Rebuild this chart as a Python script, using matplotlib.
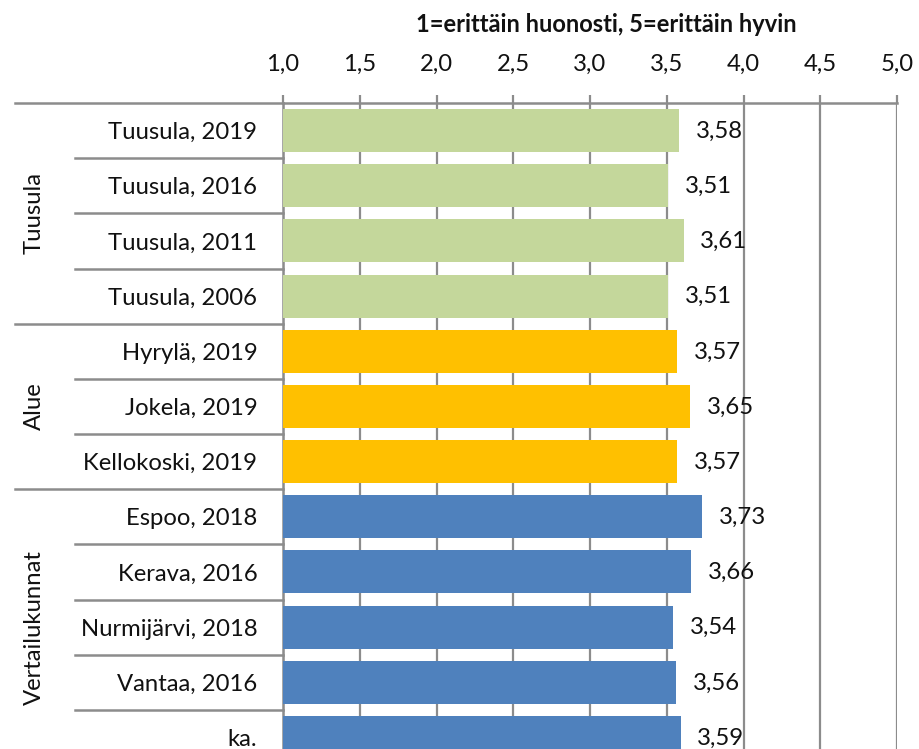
import matplotlib
matplotlib.use("Agg")
import matplotlib.pyplot as plt
import matplotlib.transforms as mtransforms

categories = ["Tuusula, 2019", "Tuusula, 2016", "Tuusula, 2011", "Tuusula, 2006",
              "Hyrylä, 2019", "Jokela, 2019", "Kellokoski, 2019",
              "Espoo, 2018", "Kerava, 2016", "Nurmijärvi, 2018", "Vantaa, 2016", "ka."]
values = [3.58, 3.51, 3.61, 3.51, 3.57, 3.65, 3.57, 3.73, 3.66, 3.54, 3.56, 3.59]
group_names = ["Tuusula", "Alue", "Vertailukunnat"]
group_sizes = [4, 3, 5]
group_colors = ["#C4D79B", "#FFC000", "#4F81BD"]
x_ticks = [1.0, 1.5, 2.0, 2.5, 3.0, 3.5, 4.0, 4.5, 5.0]
title = "1=erittäin huonosti, 5=erittäin hyvin"

plt.rcParams['font.family'] = ['Lato', 'DejaVu Sans']
GRID = "#8C8C8C"
FS = 17.2
TXT = "#111111"

fig = plt.figure(figsize=(9.19, 7.49), dpi=100)
W, H = 919, 749
left_px, right_px, top_px, bottom_px = 283, 897, 103, 765
ax = fig.add_axes([left_px / W, 1 - bottom_px / H, (right_px - left_px) / W, (bottom_px - top_px) / H])

colors = []
for c, n in zip(group_colors, group_sizes):
    colors += [c] * n

ypos = list(range(len(categories)))
ax.barh(ypos, [v - 1.0 for v in values], left=1.0, height=0.78, color=colors, zorder=3)
ax.set_xlim(1.0, 5.0)
ax.set_ylim(len(categories) - 0.5, -0.5)

ax.xaxis.tick_top()
ax.set_xticks(x_ticks)
ax.set_xticklabels([f"{t:.1f}".replace(".", ",") for t in x_ticks], fontsize=FS, color=TXT)
ax.tick_params(axis="x", length=6, width=1.6, color=GRID, pad=14)
ax.grid(axis="x", color=GRID, linewidth=1.6, zorder=0)

ax.set_yticks(ypos)
ax.set_yticklabels(categories, fontsize=FS, color=TXT)
ax.tick_params(axis="y", length=0, pad=18.5)

for s in ["right", "bottom"]:
    ax.spines[s].set_visible(False)
ax.spines["top"].set_color(GRID)
ax.spines["top"].set_linewidth(1.8)
ax.spines["left"].set_color(GRID)
ax.spines["left"].set_linewidth(1.8)

for i, v in enumerate(values):
    ax.annotate(f"{v:.2f}".replace(".", ","), (v, i), xytext=(12, -0.5), textcoords="offset points",
                ha="left", va="center", fontsize=FS, color=TXT, zorder=4)

# separator lines in label area
trans = mtransforms.blended_transform_factory(ax.transAxes, ax.transData)
x_outer = (15 - left_px) / (right_px - left_px)
x_inner = (75 - left_px) / (right_px - left_px)
start = 0
for gname, n in zip(group_names, group_sizes):
    b = start - 0.5
    ax.plot([x_outer, 0], [b, b], transform=trans, color=GRID, lw=1.8, clip_on=False)
    for k in range(1, n):
        yb = start + k - 0.5
        ax.plot([x_inner, 0], [yb, yb], transform=trans, color=GRID, lw=1.8, clip_on=False)
    center = start + (n - 1) / 2
    ax.text((34 - left_px) / (right_px - left_px), center, gname, transform=trans, rotation=90,
            ha="center", va="center", fontsize=FS, color=TXT)
    start += n

fig.text(606 / W, 1 - 25 / H, title, ha="center", va="center", fontsize=17, fontweight="bold", color=TXT)

fig.savefig("out.png", dpi=100)
